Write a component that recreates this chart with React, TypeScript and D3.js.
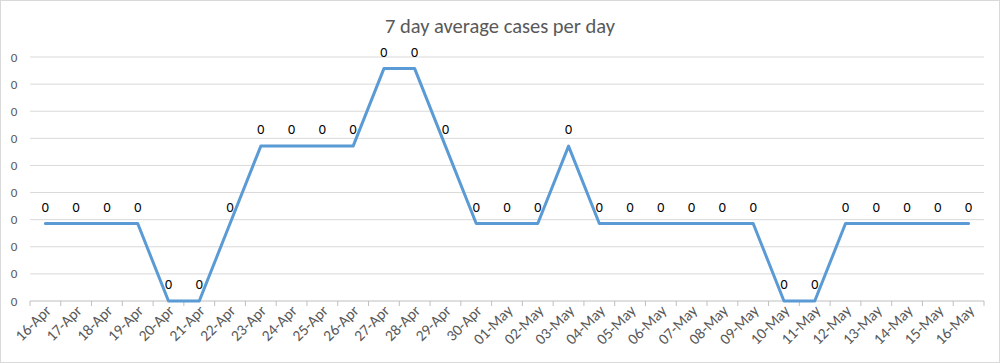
import React from 'react';
import * as d3 from 'd3';

const days = [
  '16-Apr', '17-Apr', '18-Apr', '19-Apr', '20-Apr', '21-Apr', '22-Apr', '23-Apr',
  '24-Apr', '25-Apr', '26-Apr', '27-Apr', '28-Apr', '29-Apr', '30-Apr',
  '01-May', '02-May', '03-May', '04-May', '05-May', '06-May', '07-May', '08-May',
  '09-May', '10-May', '11-May', '12-May', '13-May', '14-May', '15-May', '16-May',
];

// 7 day rolling average (cases / 7)
const avgCases = [
  1 / 7, 1 / 7, 1 / 7, 1 / 7, 0, 0, 1 / 7, 2 / 7,
  2 / 7, 2 / 7, 2 / 7, 3 / 7, 3 / 7, 2 / 7, 1 / 7,
  1 / 7, 1 / 7, 2 / 7, 1 / 7, 1 / 7, 1 / 7, 1 / 7, 1 / 7,
  1 / 7, 0, 0, 1 / 7, 1 / 7, 1 / 7, 1 / 7, 1 / 7,
];

const yTicks = [0, 0.05, 0.1, 0.15, 0.2, 0.25, 0.3, 0.35, 0.4, 0.45];

const W = 1000;
const H = 363;
const margin = { top: 57, right: 16, bottom: 62, left: 30 };
const font = 'Carlito, Calibri, "Open Sans", sans-serif';

export default function App() {
  const x = d3.scaleBand<string>()
    .domain(days)
    .range([margin.left, W - margin.right]);

  const y = d3.scaleLinear()
    .domain([0, 0.45])
    .range([H - margin.bottom, margin.top]);

  const fmt = d3.format('.0f');

  const line = d3.line<number>()
    .x((d, i) => (x(days[i]) as number) + x.bandwidth() / 2)
    .y((d) => y(d));

  const base = y(0);

  return (
    <svg width={W} height={H} style={{ position: 'absolute', left: 0, top: 0, background: '#fff' }}>
      <rect x={0.5} y={0.5} width={W - 1} height={H - 1} fill="#fff" stroke="#d9d9d9" />

      <text x={W / 2} y={33} textAnchor="middle" fontFamily={font} fontSize={20.5} fill="#595959">
        7 day average cases per day
      </text>

      {/* gridlines + y labels */}
      {yTicks.map((t) => (
        <g key={t}>
          {t > 0 && (
            <line x1={margin.left} x2={W - margin.right} y1={y(t)} y2={y(t)} stroke="#d9d9d9" strokeWidth={1} />
          )}
          <text x={14} y={y(t) + 4.5} textAnchor="middle" fontFamily={font} fontSize={13} fill="#595959">
            {fmt(t)}
          </text>
        </g>
      ))}

      {/* x axis */}
      <line x1={margin.left} x2={W - margin.right} y1={base} y2={base} stroke="#bfbfbf" />
      {days.concat(['']).map((d, i) => {
        const tx = margin.left + i * x.step();
        return <line key={'t' + i} x1={tx} x2={tx} y1={base} y2={base + 5} stroke="#bfbfbf" />;
      })}
      {days.map((d) => {
        const cx = (x(d) as number) + x.bandwidth() / 2;
        return (
          <text
            key={d}
            transform={`translate(${cx + 4},${base + 8}) rotate(-45)`}
            textAnchor="end"
            dominantBaseline="middle"
            fontFamily={font}
            fontSize={15.5}
            fill="#595959"
          >
            {d}
          </text>
        );
      })}

      <path d={line(avgCases) || ''} fill="none" stroke="#5b9bd5" strokeWidth={3} strokeLinejoin="round" strokeLinecap="round" />

      {/* data labels */}
      {avgCases.map((v, i) => (
        <text
          key={'l' + i}
          x={(x(days[i]) as number) + x.bandwidth() / 2}
          y={y(v) - 12}
          textAnchor="middle"
          fontFamily={font}
          fontSize={14}
          fill="#000"
        >
          {fmt(v)}
        </text>
      ))}
    </svg>
  );
}
